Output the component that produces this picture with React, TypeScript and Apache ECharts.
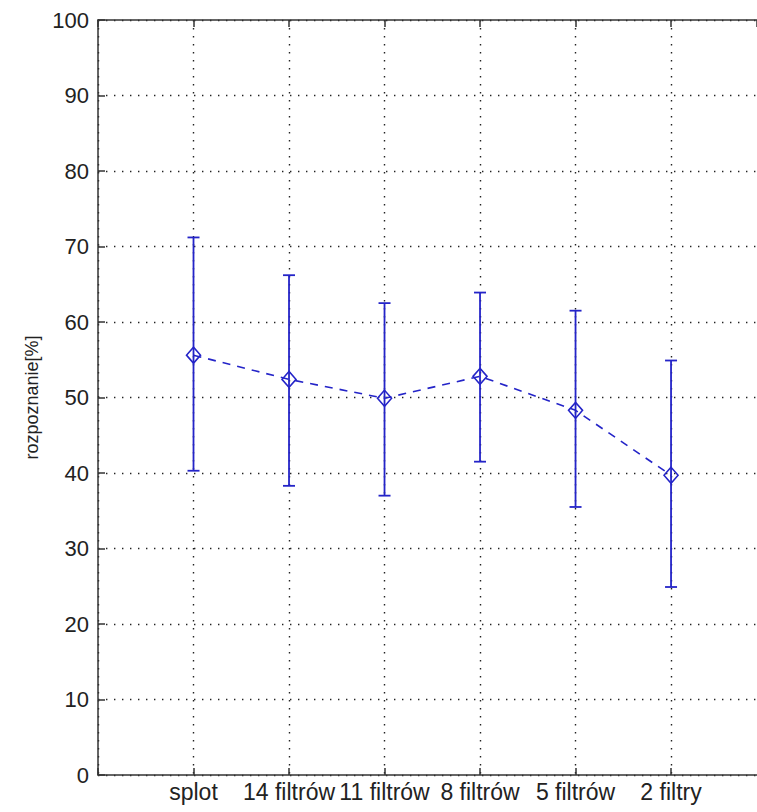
import React, { useEffect, useRef } from "react";
import * as echarts from "echarts";

const categories = ["splot", "14 filtrów", "11 filtrów", "8 filtrów", "5 filtrów", "2 filtry"];
const means = [55.6, 52.4, 49.9, 52.8, 48.3, 39.7];
const upper = [71.2, 66.2, 62.5, 63.9, 61.5, 54.9];
const lower = [40.3, 38.3, 37.0, 41.5, 35.5, 24.9];
const yTicks = { min: 0, max: 100, interval: 10 };
const xRange = { min: 0, max: 6.9, interval: 1 };
const yLabel = "rozpoznanie[%]";

const BLUE = "#2424c8";
const FONT = "Liberation Sans, Arial, sans-serif";

export default function App() {
  const ref = useRef<HTMLDivElement>(null);
  useEffect(() => {
    if (!ref.current) return;
    const chart = echarts.init(ref.current, undefined, { renderer: "svg" });
    const dotted = { type: [1.4, 6.6] as any, color: "#222", width: 1.4 };
    const lineData = means.map((m, i) => [i + 1, m]);
    const errData = means.map((_, i) => [i + 1, lower[i], upper[i]]);
    chart.setOption({
      animation: false,
      backgroundColor: "#fff",
      grid: { left: 98, right: 0, top: 20, bottom: 37, containLabel: false },
      xAxis: [
        {
          type: "value",
          min: xRange.min,
          max: xRange.max,
          interval: xRange.interval,
          position: "bottom",
          axisLine: { show: true, lineStyle: { color: "#333", width: 1.5 } },
          axisTick: { show: true, inside: true, length: 7, lineStyle: { color: "#333", width: 1.5 } },
          axisLabel: {
            show: true,
            margin: 5,
            fontSize: 23,
            fontFamily: FONT,
            color: "#222",
            showMinLabel: true,
            showMaxLabel: false,
            hideOverlap: false,
            formatter: (v: number) => categories[Math.round(v) - 1] ?? "",
          },
          splitLine: { show: true, showMaxLine: false, lineStyle: dotted },
        },
        {
          type: "value",
          min: xRange.min,
          max: xRange.max,
          interval: xRange.interval,
          position: "top",
          axisLine: { show: true, onZero: false, lineStyle: { color: "#333", width: 1.5 } },
          axisTick: { show: true, inside: true, length: 7, lineStyle: { color: "#333", width: 1.5 } },
          axisLabel: { show: false },
          splitLine: { show: false },
        },
      ],
      yAxis: {
        type: "value",
        min: yTicks.min,
        max: yTicks.max,
        interval: yTicks.interval,
        name: yLabel,
        nameLocation: "middle",
        nameRotate: 90,
        nameGap: 50,
        nameTextStyle: { fontSize: 18, fontFamily: FONT, color: "#222", verticalAlign: "middle" },
        axisLine: { show: true, lineStyle: { color: "#333", width: 1.5 } },
        axisTick: { show: true, inside: true, length: 7, lineStyle: { color: "#333", width: 1.5 } },
        axisLabel: { margin: 9, fontSize: 22, fontFamily: FONT, color: "#222" },
        splitLine: { show: true, lineStyle: dotted },
      },
      series: [
        {
          type: "custom",
          xAxisIndex: 0,
          data: errData,
          renderItem: (params: any, api: any) => {
            const x = api.value(0);
            const lo = api.coord([x, api.value(1)]);
            const hi = api.coord([x, api.value(2)]);
            const hw = 6;
            const style = { stroke: BLUE, lineWidth: 1.8 };
            return {
              type: "group",
              children: [
                { type: "line", shape: { x1: lo[0], y1: lo[1], x2: hi[0], y2: hi[1] }, style },
                { type: "line", shape: { x1: hi[0] - hw, y1: hi[1], x2: hi[0] + hw, y2: hi[1] }, style },
                { type: "line", shape: { x1: lo[0] - hw, y1: lo[1], x2: lo[0] + hw, y2: lo[1] }, style },
              ],
            };
          },
          z: 3,
        },
        {
          type: "line",
          xAxisIndex: 0,
          data: lineData,
          symbol: "diamond",
          symbolSize: [14, 16],
          showAllSymbol: true,
          lineStyle: { color: BLUE, width: 1.6, type: [8, 7] },
          itemStyle: { color: "rgba(0,0,0,0)", borderColor: BLUE, borderWidth: 1.6 },
          z: 4,
        },
      ],
    });
    return () => chart.dispose();
  }, []);
  return <div ref={ref} style={{ width: 757, height: 812, position: "absolute", left: 0, top: 0 }} />;
}
